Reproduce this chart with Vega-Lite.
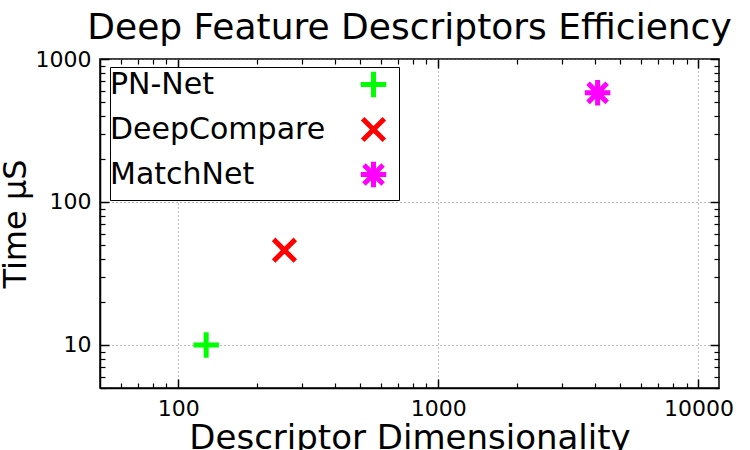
{
  "$schema": "https://vega.github.io/schema/vega-lite/v6.json",
  "width": 619,
  "height": 329,
  "autosize": {"type": "none"},
  "padding": {"left": 100, "top": 59, "right": 31, "bottom": 62},
  "background": "white",
  "config": {
    "font": "DejaVu Sans",
    "view": {"stroke": "black", "strokeWidth": 1.5},
    "axis": {"labelFont": "DejaVu Sans", "titleFont": "DejaVu Sans", "titleFontWeight": "normal", "labelColor": "black", "titleColor": "black", "domainColor": "black", "domainWidth": 1.5}
  },
  "title": {"text": "Deep Feature Descriptors Efficiency", "fontSize": 36, "font": "DejaVu Sans", "fontWeight": "normal", "anchor": "middle", "offset": 1, "color": "black"},
  "data": {"values": [
    {"name": "PN-Net", "dim": 128, "time": 10},
    {"name": "DeepCompare", "dim": 256, "time": 46},
    {"name": "MatchNet", "dim": 4096, "time": 580}
  ]},
  "resolve": {"axis": {"x": "independent", "y": "independent"}},
  "layer": [
    {
      "mark": {"type": "point", "filled": false, "strokeWidth": 5, "opacity": 1, "size": 650},
      "encoding": {
        "x": {"field": "dim", "type": "quantitative", "scale": {"type": "log", "domain": [50, 12000], "nice": false},
          "axis": {"orient": "bottom", "title": "Descriptor Dimensionality", "titleFontSize": 34, "titlePadding": 2, "labelFontSize": 22, "labelPadding": 10,
            "values": [100, 1000, 10000], "format": "d", "ticks": false,
            "grid": true, "gridDash": [1, 3], "gridColor": "#777777"}},
        "y": {"field": "time", "type": "quantitative", "scale": {"type": "log", "domain": [5, 1000], "nice": false},
          "axis": {"orient": "left", "title": "Time µS", "titleFontSize": 32, "titlePadding": 3, "labelFontSize": 22, "labelPadding": 9,
            "values": [10, 100, 1000], "format": "d", "ticks": false,
            "grid": true, "gridDash": [1, 3], "gridColor": "#777777"}},
        "color": {"field": "name", "type": "nominal",
          "scale": {"domain": ["PN-Net", "DeepCompare", "MatchNet"], "range": ["#00ff00", "#ff0000", "#ff00ff"]},
          "legend": {"title": null, "orient": "none", "legendX": 10, "legendY": 8, "direction": "vertical",
            "labelFontSize": 30, "labelColor": "black", "symbolSize": 650, "symbolStrokeWidth": 5,
            "symbolOffset": 246, "labelOffset": -279, "strokeColor": "black", "fillColor": "white", "padding": 2, "rowPadding": 0, "labelLimit": 400}},
        "shape": {"field": "name", "type": "nominal",
          "scale": {"domain": ["PN-Net", "DeepCompare", "MatchNet"], "range": ["M-1,0H1M0,-1V1", "M-0.85,-0.85L0.85,0.85M-0.85,0.85L0.85,-0.85", "M-1,0H1M0,-1V1M-0.75,-0.75L0.75,0.75M-0.75,0.75L0.75,-0.75"]}}
      }
    },
    {
      "mark": {"type": "point", "opacity": 0},
      "encoding": {
        "x": {"field": "dim", "type": "quantitative", "scale": {"type": "log", "domain": [50, 12000], "nice": false},
          "axis": {"orient": "bottom", "offset": -9, "ticks": true, "tickSize": 9, "tickWidth": 1.5, "tickColor": "black", "tickOpacity": 1, "title": null, "labels": false, "grid": false, "domain": false,
            "values": [100, 1000, 10000]}},
        "y": {"field": "time", "type": "quantitative", "scale": {"type": "log", "domain": [5, 1000], "nice": false},
          "axis": {"orient": "left", "offset": -9, "ticks": true, "tickSize": 9, "tickWidth": 1.5, "tickColor": "black", "tickOpacity": 1, "title": null, "labels": false, "grid": false, "domain": false,
            "values": [10, 100, 1000]}}
      }
    },
    {
      "mark": {"type": "point", "opacity": 0},
      "encoding": {
        "x": {"field": "dim", "type": "quantitative", "scale": {"type": "log", "domain": [50, 12000], "nice": false},
          "axis": {"orient": "bottom", "offset": -5, "ticks": true, "tickSize": 5, "tickWidth": 1.2, "tickColor": "black", "tickOpacity": 1, "title": null, "labels": false, "grid": false, "domain": false,
            "values": [60,70,80,90,200,300,400,500,600,700,800,900,2000,3000,4000,5000,6000,7000,8000,9000]}},
        "y": {"field": "time", "type": "quantitative", "scale": {"type": "log", "domain": [5, 1000], "nice": false},
          "axis": {"orient": "left", "offset": -5, "ticks": true, "tickSize": 5, "tickWidth": 1.2, "tickColor": "black", "tickOpacity": 1, "title": null, "labels": false, "grid": false, "domain": false,
            "values": [5,6,7,8,9,20,30,40,50,60,70,80,90,200,300,400,500,600,700,800,900]}}
      }
    },
    {
      "mark": {"type": "point", "opacity": 0},
      "encoding": {
        "x": {"field": "dim", "type": "quantitative", "scale": {"type": "log", "domain": [50, 12000], "nice": false},
          "axis": {"orient": "top", "offset": -9, "ticks": true, "tickSize": 9, "tickWidth": 1.5, "tickColor": "black", "tickOpacity": 1, "title": null, "labels": false, "grid": false, "domain": false,
            "values": [100, 1000, 10000]}},
        "y": {"field": "time", "type": "quantitative", "scale": {"type": "log", "domain": [5, 1000], "nice": false},
          "axis": {"orient": "right", "offset": -9, "ticks": true, "tickSize": 9, "tickWidth": 1.5, "tickColor": "black", "tickOpacity": 1, "title": null, "labels": false, "grid": false, "domain": false,
            "values": [10, 100, 1000]}}
      }
    },
    {
      "mark": {"type": "point", "opacity": 0},
      "encoding": {
        "x": {"field": "dim", "type": "quantitative", "scale": {"type": "log", "domain": [50, 12000], "nice": false},
          "axis": {"orient": "top", "offset": -5, "ticks": true, "tickSize": 5, "tickWidth": 1.2, "tickColor": "black", "tickOpacity": 1, "title": null, "labels": false, "grid": false, "domain": false,
            "values": [60,70,80,90,200,300,400,500,600,700,800,900,2000,3000,4000,5000,6000,7000,8000,9000]}},
        "y": {"field": "time", "type": "quantitative", "scale": {"type": "log", "domain": [5, 1000], "nice": false},
          "axis": {"orient": "right", "offset": -5, "ticks": true, "tickSize": 5, "tickWidth": 1.2, "tickColor": "black", "tickOpacity": 1, "title": null, "labels": false, "grid": false, "domain": false,
            "values": [5,6,7,8,9,20,30,40,50,60,70,80,90,200,300,400,500,600,700,800,900]}}
      }
    }
  ]
}
